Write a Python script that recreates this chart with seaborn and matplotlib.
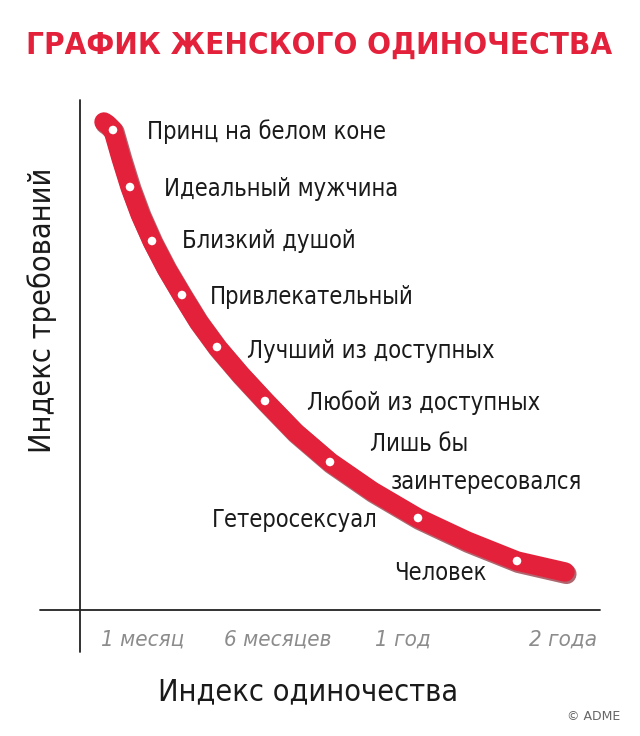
import numpy as np
import matplotlib
matplotlib.use("Agg")
import matplotlib.pyplot as plt
import seaborn as sns

sns.set_theme(style="white")
plt.rcParams['font.family'] = ['DejaVu Sans']

# уровни на кривой (шкала картинки: x вправо, y вниз)
labels = ["Принц на белом коне", "Идеальный мужчина", "Близкий душой",
          "Привлекательный", "Лучший из доступных", "Любой из доступных",
          "Лишь бы\nзаинтересовался", "Гетеросексуал", "Человек"]
dot_x = [113, 130, 152, 182, 217, 265, 330, 418, 517]
dot_y = [130, 187, 241, 295, 347, 401, 462, 518, 561]
curve_x = [104, 107, 113, 121, 130, 140, 152, 166, 182, 198, 217, 240, 265, 295, 330, 372, 418, 467, 517, 565]
curve_y = [122, 124, 130, 158, 187, 214, 241, 268, 295, 321, 347, 374, 401, 432, 462, 491, 518, 541, 561, 572]
tick_labels = ["1 месяц", "6 месяцев", "1 год", "2 года"]
tick_x = [143, 278, 403, 563]

red = "#e3213b"
fig = plt.figure(figsize=(6.4, 7.36), dpi=100)
ax = fig.add_axes([0, 0, 1, 1])
ax.set_xlim(0, 640)
ax.set_ylim(736, 0)
ax.axis("off")

# оси
ax.plot([40, 600], [610, 610], color="#222222", lw=1.3)
ax.plot([80, 80], [100, 652], color="#222222", lw=1.3)

# кривая
ax.plot(np.array(curve_x) + 1.5, np.array(curve_y) + 2, color="#7a0010", lw=14.5,
        solid_capstyle="round", solid_joinstyle="round", alpha=0.6)
ax.plot(curve_x, curve_y, color=red, lw=14, solid_capstyle="round", solid_joinstyle="round")
sns.scatterplot(x=dot_x, y=dot_y, ax=ax, s=38, color="white", edgecolor="none", zorder=5)

txt = dict(fontstretch="condensed", color="#1a1a1a", fontsize=17)
offsets = [(34, 2), (34, 2), (30, 0), (28, 2), (30, 4), (42, 2), (40, 2), (-40, 2), (-30, 12)]
for lab, x, y, (dx, dy) in zip(labels, dot_x, dot_y, offsets):
    if lab.startswith("Лишь"):
        ax.text(x + dx, y - 18, "Лишь бы", ha="left", va="center", **txt)
        ax.text(582, y + 20, "заинтересовался", ha="right", va="center", **txt)
    elif dx < 0:
        ax.text(x + dx, y + dy, lab, ha="right", va="center", **txt)
    else:
        ax.text(x + dx, y + dy, lab, ha="left", va="center", **txt)

for t, x in zip(tick_labels, tick_x):
    ax.text(x, 640, t, ha="center", va="center", fontsize=16, style="italic",
            fontstretch="condensed", color="#8c8c8c")

ax.text(319, 45, "ГРАФИК ЖЕНСКОГО ОДИНОЧЕСТВА", ha="center", va="center", fontsize=22.5,
        fontweight="bold", fontstretch="condensed", color=red)
ax.text(308, 692, "Индекс одиночества", ha="center", va="center", fontsize=22,
        fontstretch="condensed", color="#1a1a1a")
ax.text(42, 310, "Индекс требований", ha="center", va="center", fontsize=22, rotation=90,
        fontstretch="condensed", color="#1a1a1a")
ax.text(620, 716, "© ADME", ha="right", va="center", fontsize=9, color="#666666")

fig.savefig("out.png", dpi=100, facecolor="white")
